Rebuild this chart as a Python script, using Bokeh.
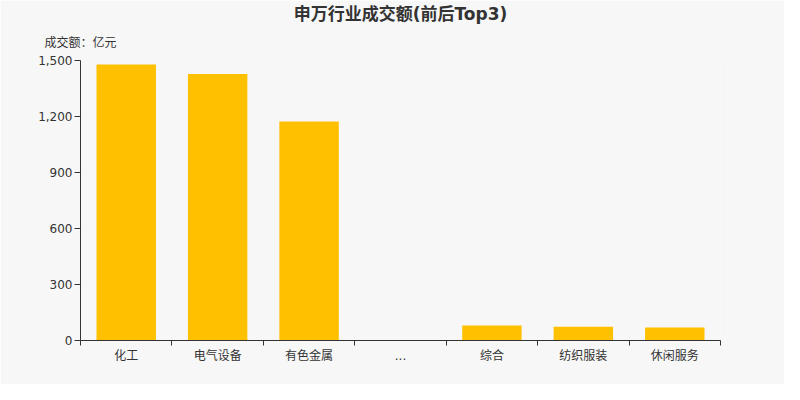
from bokeh.plotting import figure
from bokeh.models import FixedTicker, NumeralTickFormatter, Title, Range1d
from bokeh.embed import file_html
from bokeh.resources import INLINE

categories = ["化工", "电气设备", "有色金属", "...", "综合", "纺织服装", "休闲服务"]
values = [1478, 1428, 1173, 0, 80, 73, 70]
y_ticks = [0, 300, 600, 900, 1200, 1500]
title_text = "申万行业成交额(前后Top3)"
unit_text = "成交额：亿元"

BG = "#f7f7f7"
FONT = "DejaVu Sans, Noto Sans CJK SC"

xs = [i + 0.5 for i in range(len(categories))]

p = figure(width=784, height=384, output_backend="svg", toolbar_location=None,
           x_range=Range1d(0, len(categories)), y_range=Range1d(0, 1500),
           min_border_left=80, min_border_right=64, min_border_top=60, min_border_bottom=44,
           background_fill_color=BG, border_fill_color=BG, outline_line_color=None)

p.vbar(x=xs, top=values, width=0.65, color="#FFC000", line_color=None)

p.xgrid.visible = False
p.ygrid.visible = False

xa = p.xaxis[0]
xa.ticker = FixedTicker(ticks=xs, minor_ticks=list(range(len(categories) + 1)))
xa.major_label_overrides = {x: c for x, c in zip(xs, categories)}
xa.major_tick_line_color = None
xa.minor_tick_in = 0
xa.minor_tick_out = 5
xa.minor_tick_line_color = "#333333"
xa.axis_line_color = "#333333"
xa.major_label_text_font = FONT
xa.major_label_text_font_size = "12px"
xa.major_label_text_color = "#333333"
xa.major_label_standoff = 2

ya = p.yaxis[0]
ya.ticker = FixedTicker(ticks=y_ticks)
ya.formatter = NumeralTickFormatter(format="0,0")
ya.major_tick_in = 0
ya.major_tick_out = 6
ya.minor_tick_line_color = None
ya.major_tick_line_color = "#333333"
ya.axis_line_color = "#333333"
ya.major_label_text_font = FONT
ya.major_label_text_font_size = "12px"
ya.major_label_text_color = "#333333"
ya.major_label_standoff = 2

p.add_layout(Title(text=unit_text, align="left", offset=-36, standoff=21,
                   text_font=FONT, text_font_size="12px", text_font_style="normal",
                   text_color="#333333"), "above")
p.add_layout(Title(text=title_text, align="center", standoff=0,
                   text_font=FONT, text_font_size="17px", text_font_style="bold",
                   text_color="#333333"), "above")

html = file_html(p, INLINE)
html = html.replace("<body>", '<body style="background:%s">' % BG, 1)
open("out.html", "w").write(html)
